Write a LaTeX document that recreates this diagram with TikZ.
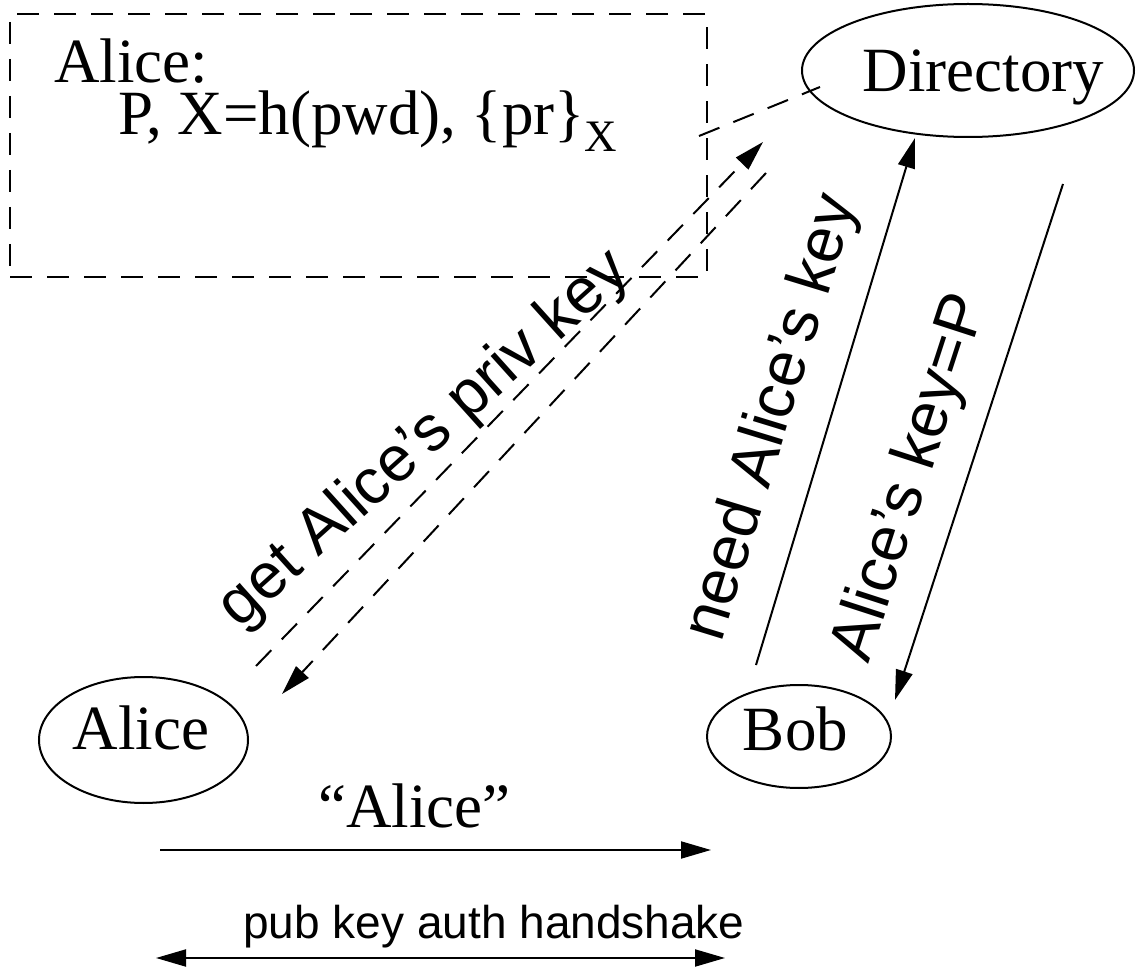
\documentclass[tikz,border=0pt]{standalone}
\usepackage{fontspec}
\setmainfont{Liberation Serif}
\setsansfont{Liberation Sans}
\usetikzlibrary{arrows.meta,shapes.geometric}
\begin{document}
\begin{tikzpicture}[x=1pt,y=-1pt,
  line width=2pt,
  big/.style={font=\fontsize{63}{70}\selectfont, inner sep=0pt},
  lbl/.style={font=\sffamily\fontsize{64}{72}\selectfont, inner sep=0pt},
  small/.style={font=\sffamily\fontsize{46}{52}\selectfont, inner sep=0pt},
  party/.style={draw, ellipse, inner sep=0pt},
  msg/.style={-{Triangle[length=30pt,width=17pt]}},
  both/.style={{Triangle[length=30pt,width=17pt]}-{Triangle[length=30pt,width=17pt]}},
  dashline/.style={dash pattern=on 22pt off 15pt},
]
\useasboundingbox (0,0) rectangle (1136,968);

% Alice's stored record
\node[draw, dashline, minimum width=697pt, minimum height=263pt, inner sep=0pt] (store) at (358.5,145.5) {};
\node[big, anchor=base west] (owner) at (53,83) {Alice:};
\node[big, anchor=base west] (creds) at (117,135) {P, X=h(pwd), \{pr\}\raisebox{-17pt}{\fontsize{45}{50}\selectfont X}};

% parties
\node[party, minimum width=332pt, minimum height=133pt] (dir) at (968,70.5) {};
\node[big, anchor=base] (dirname) at (983.5,92) {Directory};
\node[party, minimum width=209pt, minimum height=126pt] (alice) at (143.5,740) {};
\node[big, anchor=base] (alicename) at (141,749) {Alice};
\node[party, minimum width=184pt, minimum height=103pt] (bob) at (799,736.5) {};
\node[big, anchor=base] (bobname) at (795.5,750) {Bob};

% connector end points
\coordinate (storeout) at (699,136);
\coordinate (dirin) at (820,87);
\coordinate (aliceup) at (256,666);
\coordinate (dirget) at (763,142);
\coordinate (dirsend) at (766,173);
\coordinate (alicerecv) at (282,694);
\coordinate (bobup) at (756,665);
\coordinate (dirask) at (915,138);
\coordinate (dirreply) at (1063,184);
\coordinate (bobrecv) at (895,700);
\coordinate (claimL) at (160,850);
\coordinate (claimR) at (711,850);
\coordinate (hsL) at (156,958);
\coordinate (hsR) at (725,958);

% messages
\draw[dashline] (storeout) -- (dirin);
\draw[dashline, msg] (aliceup) -- (dirget);
\draw[dashline, msg] (dirsend) -- (alicerecv);
\draw[msg] (bobup) -- (dirask);
\draw[msg] (dirreply) -- (bobrecv);
\draw[msg] (claimL) -- (claimR);
\draw[both] (hsL) -- (hsR);

% message labels
\node[lbl, rotate=42] (getlbl) at (425,440) {get Alice’s priv key};
\node[lbl, rotate=73] (needlbl) at (773,418) {need Alice’s key};
\node[lbl, rotate=72] (keylbl) at (912,478) {Alice’s key=P};
\node[big, anchor=base] (claimlbl) at (414.5,827) {``Alice''};
\node[small, anchor=base] (hslbl) at (494,938) {pub key auth handshake};
\end{tikzpicture}
\end{document}
